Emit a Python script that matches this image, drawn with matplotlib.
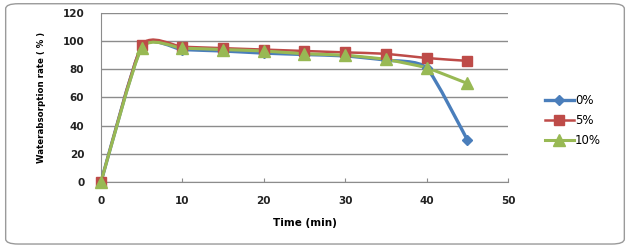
import matplotlib
matplotlib.use("Agg")
import matplotlib.pyplot as plt
from matplotlib.path import Path
from matplotlib.patches import PathPatch, FancyBboxPatch
from matplotlib.lines import Line2D

# data
time_min = [0, 5, 10, 15, 20, 25, 30, 35, 40, 45]
rate_0 = [0, 96, 94, 93, 91.5, 90.5, 89.5, 86.5, 81, 30]
rate_5 = [0, 97, 96, 95, 94, 93, 92, 91, 88, 86]
rate_10 = [0, 95, 95, 94, 93, 91, 90, 87, 81, 70]
labels = ["0%", "5%", "10%"]

colors = ["#4a7ebb", "#be4b48", "#98b954"]
markers = ["D", "s", "^"]
msizes = [5, 7, 8]
lwidths = [2.4, 1.8, 2.2]


def smooth_path(x, y, k=0.1):
    # Excel-style smoothed line: cubic bezier through each point
    verts = [(x[0], y[0])]
    codes = [Path.MOVETO]
    n = len(x)
    for i in range(n - 1):
        x0, y0 = (x[i - 1], y[i - 1]) if i > 0 else (x[i], y[i])
        x3, y3 = (x[i + 2], y[i + 2]) if i + 2 < n else (x[i + 1], y[i + 1])
        c1 = (x[i] + (x[i + 1] - x0) * k, y[i] + (y[i + 1] - y0) * k)
        c2 = (x[i + 1] - (x3 - x[i]) * k, y[i + 1] - (y3 - y[i]) * k)
        verts += [c1, c2, (x[i + 1], y[i + 1])]
        codes += [Path.CURVE4] * 3
    return Path(verts, codes)


fig = plt.figure(figsize=(6.3, 2.49), dpi=100)
frame = FancyBboxPatch((0.009, 0.02), 0.982, 0.965, boxstyle="round,pad=0,rounding_size=0.02",
                       transform=fig.transFigure, facecolor="white", edgecolor="#9a9a9a",
                       linewidth=1.0, zorder=-5)
fig.patches.append(frame)

ax = fig.add_axes([0.1603, 0.269, 0.646, 0.679])
ax.set_facecolor("none")
ax.set_zorder(2)

handles = []
for ys, c, m, ms, lw, lab in zip([rate_0, rate_5, rate_10], colors, markers, msizes, lwidths, labels):
    patch = PathPatch(smooth_path(time_min, ys), facecolor="none", edgecolor=c,
                      linewidth=lw, zorder=3, capstyle="round", joinstyle="round")
    ax.add_patch(patch)
    ax.plot(time_min, ys, linestyle="none", marker=m, markersize=ms, color=c, zorder=4,
            clip_on=False)
    handles.append(Line2D([], [], color=c, marker=m, markersize=ms, linewidth=lw, label=lab))

ax.set_xlim(0, 50)
ax.set_ylim(0, 120)
ax.set_xticks(range(0, 51, 10))
ax.set_yticks(range(0, 121, 20))
ax.yaxis.grid(True, color="#8c8c8c", linewidth=1.0)
ax.set_axisbelow(True)
for s in ["top", "right"]:
    ax.spines[s].set_visible(False)
for s in ["left", "bottom"]:
    ax.spines[s].set_color("#8c8c8c")
ax.tick_params(axis="y", length=0, pad=12, labelsize=7.5, labelcolor="#222222")
ax.tick_params(axis="x", direction="in", length=3, color="#8c8c8c", pad=10,
               labelsize=7.5, labelcolor="#222222")
for t in ax.get_xticklabels() + ax.get_yticklabels():
    t.set_fontweight("bold")

ax.set_xlabel("Time (min)", fontsize=7.5, fontweight="bold", labelpad=9)
fig.text(0.066, 0.61, "Waterabsorption rate ( % )", rotation=90, ha="center", va="center",
         fontsize=6.2, fontweight="bold", family=["Liberation Sans Narrow", "DejaVu Sans"])

fig.legend(handles=handles, loc="center left", bbox_to_anchor=(0.858, 0.515), frameon=False,
           fontsize=8.5, handlelength=2.4, handletextpad=0.1, labelspacing=0.6,
           borderaxespad=0)

fig.savefig("out.png", dpi=100)
